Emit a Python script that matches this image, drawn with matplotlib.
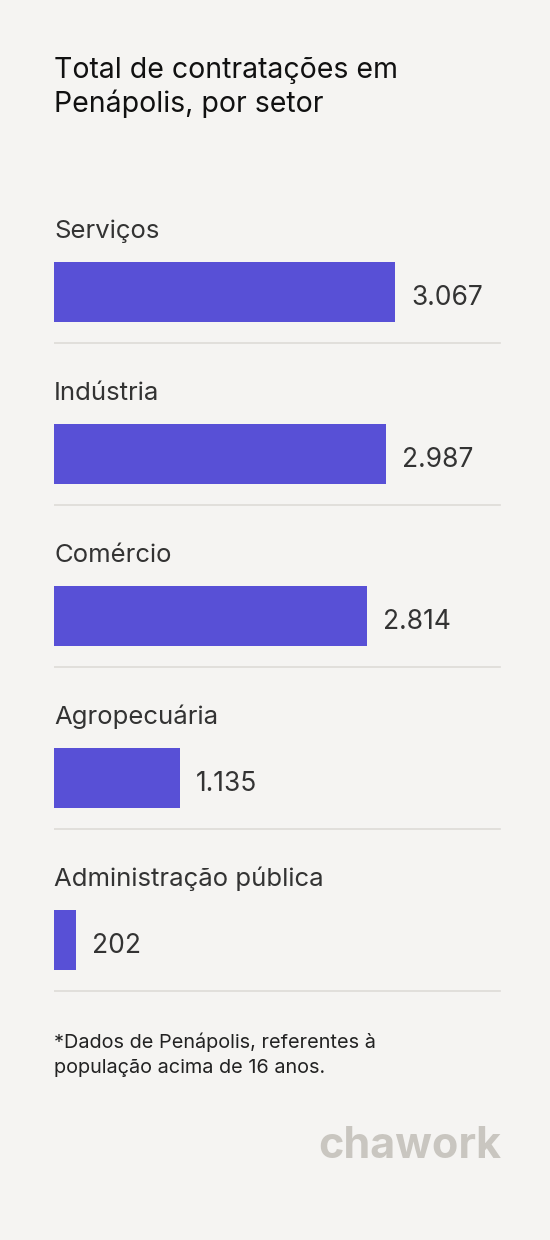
import matplotlib.pyplot as plt

plt.rcParams['font.family'] = ['Inter', 'DejaVu Sans']

setores = ['Serviços', 'Indústria', 'Comércio', 'Agropecuária', 'Administração pública']
valores = [3067, 2987, 2814, 1135, 202]
rotulos = ['3.067', '2.987', '2.814', '1.135', '202']

bg = '#F5F4F2'
fig = plt.figure(figsize=(5.5, 12.4), dpi=100, facecolor=bg)

# axes: x in data units (0 at px 54), y in pixels from top
px_per_unit = 341 / 3067
ax = fig.add_axes([54 / 550, 0, 496 / 550, 1])
ax.set_xlim(0, 496 / px_per_unit)
ax.set_ylim(1240, 0)
ax.axis('off')
ax.set_facecolor(bg)

x_end = 446 / px_per_unit  # separator end at px 500
for i, (s, v, r) in enumerate(zip(setores, valores, rotulos)):
    top = 229 + i * 162
    cy = top + 63
    ax.barh(cy, v, height=60, color='#5850D6')
    ax.text(0, top + 2, s, fontsize=18.5, color='#333333', va='center', ha='left')
    ax.text(v + 16 / px_per_unit, cy + 6, r, fontsize=19, color='#333333', va='center', ha='left')
    ax.plot([0, x_end], [top + 114, top + 114], color='#DDDBD7', lw=1.2)

fig.text(54 / 550, 1 - 70 / 1240, 'Total de contratações em', fontsize=20.5, color='#111111', va='center')
fig.text(54 / 550, 1 - 104 / 1240, 'Penápolis, por setor', fontsize=20.5, color='#111111', va='center')
fig.text(54 / 550, 1 - 1042 / 1240, '*Dados de Penápolis, referentes à', fontsize=14.3, color='#222222', va='center')
fig.text(54 / 550, 1 - 1068 / 1240, 'população acima de 16 anos.', fontsize=14.3, color='#222222', va='center')
fig.text(501 / 550, 1 - 1146 / 1240, 'chawork', fontsize=31, fontweight='bold', color='#C9C6C0', va='center', ha='right')

fig.savefig('out.png', dpi=100, facecolor=bg)
